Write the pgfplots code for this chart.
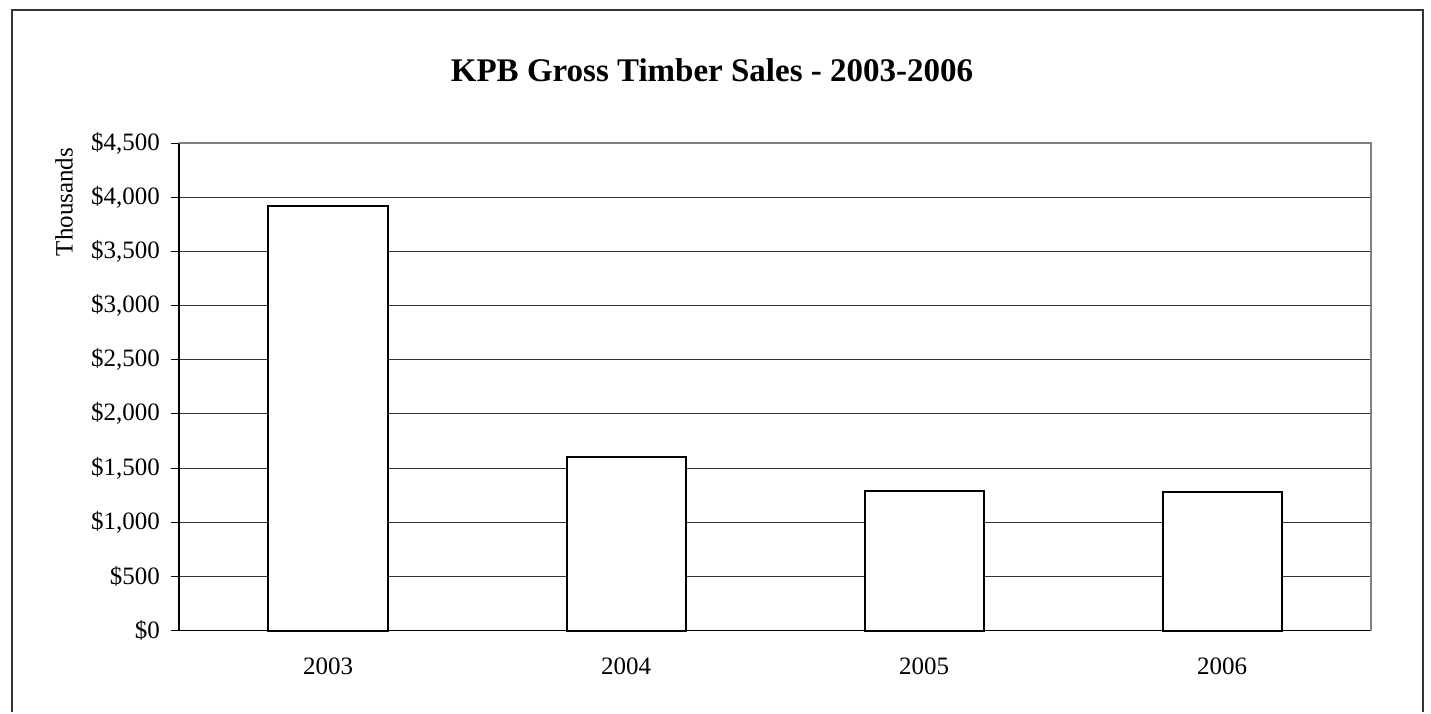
\documentclass[border=0pt]{standalone}
\usepackage{pgfplots}
\pgfplotsset{compat=1.18}
\usepackage{fontspec}
\setmainfont{Liberation Serif}
\begin{document}
\begin{tikzpicture}[x=0.5pt,y=0.5pt]
  % page size 1431 x 712 px
  \path (0,0) rectangle (1431,712);
  \draw[line width=1pt, black!80] (12,0) -- (12,702) -- (1423,702) -- (1423,0);
  \node[font=\fontsize{16.5}{20}\selectfont\bfseries] at (712,642) {KPB Gross Timber Sales - 2003-2006};
  \node[rotate=90, font=\fontsize{12.5}{15}\selectfont] at (64,510) {Thousands};
  \coordinate (origin) at (179,81.5);
  \begin{axis}[
      at={(origin)}, anchor=south west,
      scale only axis,
      width=596pt, height=243.75pt,
      xmin=-0.5, xmax=3.5,
      ymin=0, ymax=4500,
      ytick={0,500,...,4500},
      xtick={0,1,2,3},
      xticklabels={2003,2004,2005,2006},
      extra x ticks={-0.5,0.5,1.5,2.5,3.5},
      extra x tick labels={},
      extra x tick style={major tick length=4pt, grid=none},
      major x tick style={draw=none},
      tick align=outside,
      major tick length=4pt,
      ymajorgrids,
      grid style={black!80, line width=0.5pt},
      axis x line*=bottom,
      axis y line*=left,
      axis line style={black, line width=0.6pt},
      tick style={black, line width=0.5pt},
      yticklabel={\$\pgfmathprintnumber{\tick}},
      /pgf/number format/1000 sep={,},
      /pgf/number format/assume math mode=true,
      ticklabel style={font=\fontsize{12.5}{15}\selectfont},
      yticklabel style={xshift=-2pt},
      xticklabel style={yshift=-6pt},
      clip=false,
    ]
    \draw[black!50, line width=1pt] (rel axis cs:0,1) -- (rel axis cs:1,1) -- (rel axis cs:1,0);
    \addplot[ybar, bar width=59.5pt, draw=black, fill=white, line width=1pt] coordinates {
      (0,3921)
      (1,1601)
      (2,1290)
      (3,1276)
    };
  \end{axis}
\end{tikzpicture}
\end{document}
